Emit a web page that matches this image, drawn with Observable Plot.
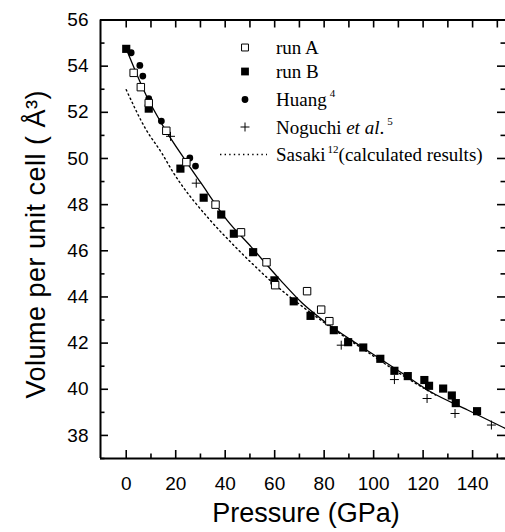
<!DOCTYPE html>
<html><head><meta charset="utf-8">
<script src="https://cdn.jsdelivr.net/npm/d3@7"></script>
<script src="https://cdn.jsdelivr.net/npm/@observablehq/plot@0.6"></script>
<style>
body{margin:0;background:#fff;overflow:hidden}
#wrap{position:relative;width:505px;height:532px}
#wrap svg{display:block}
#legend{position:absolute;left:0;top:0}
.ytitle text{letter-spacing:0.5px}
</style></head><body><div id="wrap"></div>
<script>
// ---- data ----
const runA_P = [3.0, 5.9, 9.1, 16.2, 24.3, 36.1, 46.4, 56.7, 60.2, 73.1, 78.8, 82.1];
const runA_V = [53.71, 53.09, 52.40, 51.20, 49.84, 48.00, 46.80, 45.50, 44.51, 44.25, 43.45, 42.95];
const runB_P = [0, 9.1, 21.9, 31.3, 38.4, 43.5, 51.3, 59.9, 67.7, 74.5, 83.9, 89.7, 95.8, 102.7, 108.4, 113.8, 120.5, 122.4, 128.1, 131.6, 133.2, 141.8];
const runB_V = [54.75, 52.16, 49.56, 48.30, 47.57, 46.74, 45.94, 44.72, 43.81, 43.18, 42.56, 42.04, 41.81, 41.32, 40.80, 40.57, 40.40, 40.15, 40.03, 39.73, 39.40, 39.05];
const huang_P = [2.0, 5.5, 6.7, 9.1, 14.2, 25.7, 28.0];
const huang_V = [54.58, 54.03, 53.57, 52.59, 51.62, 50.02, 49.67];
const noguchi_P = [17.9, 28.3, 86.9, 108.4, 121.6, 132.9, 147.6];
const noguchi_V = [50.96, 48.93, 41.91, 40.42, 39.60, 38.95, 38.45];
const fit_P = [0, 8, 15.2, 23.9, 30, 40.8, 50.5, 62.4, 71, 80, 90.7, 96, 110.8, 123, 138, 153.3];
const fit_V = [54.75, 52.75, 51.35, 49.92, 48.97, 47.32, 46.17, 44.72, 43.75, 42.95, 42.15, 41.78, 40.75, 39.89, 39.10, 38.30];
const sasaki_P = [0, 7.8, 14.5, 18.5, 33.3, 42.2, 50.2, 59.6, 70.4, 82.5, 96, 114, 125];
const sasaki_V = [52.98, 51.29, 50.21, 49.48, 47.40, 46.38, 45.52, 44.58, 43.65, 42.70, 41.72, 40.45, 39.75];

const xMajor = [0, 20, 40, 60, 80, 100, 120, 140];
const xMinor = [10, 30, 50, 70, 90, 110, 130, 150];
const yMajor = [38, 40, 42, 44, 46, 48, 50, 52, 54, 56];
const yMinor = [37, 39, 41, 43, 45, 47, 49, 51, 53, 55];
const xDomain = [-10.4, 153.3];
const yDomain = [37, 56];
const xTitle = ["Pressure (GPa)"];
const yTitle = ["Volume per unit cell ( Å³)"];

// ---- layout ----
const W = 505, H = 532, mL = 100, mR = 0, mT = 19.5, mB = 74;
const pw = W - mL - mR, ph = H - mT - mB;
const pts = (P, V) => P.map((p, i) => ({P: p, V: V[i]}));

const chart = Plot.plot({
  width: W, height: H,
  marginLeft: mL, marginRight: mR, marginTop: mT, marginBottom: mB,
  x: {domain: xDomain},
  y: {domain: yDomain},
  style: {fontFamily: "'Liberation Sans', Arial, sans-serif", color: "#000", background: "#fff"},
  marks: [
    // frame (left, top, bottom)
    Plot.ruleX([xDomain[0]], {x: d => d, stroke: "#000", strokeWidth: 2}),
    Plot.ruleY(yDomain, {y: d => d, stroke: "#000", strokeWidth: 2}),
    // inward ticks
    Plot.tickX(xMajor, {x: d => d, insetTop: ph - 8, stroke: "#000", strokeWidth: 1.6}),
    Plot.tickX(xMinor, {x: d => d, insetTop: ph - 4.5, stroke: "#000", strokeWidth: 1.6}),
    Plot.tickX(xMajor.concat(xMinor), {x: d => d, insetBottom: ph - 8, stroke: "#000", strokeWidth: 1.6}),
    Plot.tickY(yMajor, {y: d => d, insetRight: pw - 8, stroke: "#000", strokeWidth: 1.6}),
    Plot.tickY(yMinor, {y: d => d, insetRight: pw - 4.5, stroke: "#000", strokeWidth: 1.6}),
    Plot.tickY(yMajor, {y: d => d, insetLeft: pw - 8, stroke: "#000", strokeWidth: 1.6}),
    Plot.tickY(yMinor, {y: d => d, insetLeft: pw - 4.5, stroke: "#000", strokeWidth: 1.6}),
    // tick labels
    Plot.axisX({ticks: xMajor, tickSize: 0, tickPadding: 18, fontSize: 19, tickFormat: d => String(d), label: null}),
    Plot.axisY({ticks: yMajor, tickSize: 0, tickPadding: 12, fontSize: 19, tickFormat: d => String(d), label: null}),
    // axis titles
    Plot.text(xTitle, {text: d => d, frameAnchor: "bottom", dx: 3, dy: 55, fontSize: 27, lineAnchor: "middle", textAnchor: "middle"}),
    Plot.text(yTitle, {text: d => d, frameAnchor: "left", rotate: -90, dx: -64, dy: 5, fontSize: 27, lineAnchor: "middle", textAnchor: "middle", className: "ytitle"}),
    // curves
    Plot.line(pts(sasaki_P, sasaki_V), {x: "P", y: "V", stroke: "#000", strokeWidth: 1.4, strokeDasharray: "1.4,3.2", curve: "monotone-x"}),
    Plot.line(pts(fit_P, fit_V), {x: "P", y: "V", stroke: "#000", strokeWidth: 1.3, curve: "monotone-x"}),
    // points
    Plot.dot(pts(huang_P, huang_V), {x: "P", y: "V", symbol: "circle", r: 3.4, fill: "#000", stroke: "none"}),
    Plot.dot(pts(noguchi_P, noguchi_V), {x: "P", y: "V", symbol: "plus", r: 3.0, stroke: "#000", strokeWidth: 1, fill: "none"}),
    Plot.dot(pts(runB_P, runB_V), {x: "P", y: "V", symbol: "square", r: 4.6, fill: "#000", stroke: "none"}),
    Plot.dot(pts(runA_P, runA_V), {x: "P", y: "V", symbol: "square", r: 4.2, fill: "#fff", stroke: "#000", strokeWidth: 1})
  ]
});
const wrap = document.getElementById("wrap");
wrap.appendChild(chart);

// ---- legend (overlay) ----
const leg = d3.select(wrap).append("svg").attr("id", "legend").attr("width", W).attr("height", 180);
const rows = [47.5, 71.5, 99.5, 127, 154.5];
const symX = 245, textX = 276;
const g = leg.append("g").style("font-family", "'Liberation Serif', 'Times New Roman', serif").style("font-size", "19px").attr("fill", "#000");
g.append("path").attr("transform", `translate(${symX},${rows[0]})`).attr("d", d3.symbol(d3.symbolSquare, Math.PI * 3.9 * 3.9)()).attr("fill", "#fff").attr("stroke", "#000");
g.append("path").attr("transform", `translate(${symX},${rows[1]})`).attr("d", d3.symbol(d3.symbolSquare, Math.PI * 4.4 * 4.4)()).attr("fill", "#000");
g.append("path").attr("transform", `translate(${symX},${rows[2]})`).attr("d", d3.symbol(d3.symbolCircle, Math.PI * 3.4 * 3.4)()).attr("fill", "#000");
g.append("path").attr("transform", `translate(${symX},${rows[3]})`).attr("d", d3.symbol(d3.symbolPlus, Math.PI * 3.0 * 3.0)()).attr("fill", "none").attr("stroke", "#000");
g.append("line").attr("x1", 220).attr("x2", 267).attr("y1", rows[4]).attr("y2", rows[4]).attr("stroke", "#000").attr("stroke-width", 1.4).attr("stroke-dasharray", "1.4,3.2");
const base = 6.5;
g.append("text").attr("x", textX).attr("y", rows[0] + base).text("run A");
g.append("text").attr("x", textX).attr("y", rows[1] + base).text("run B");
let t = g.append("text").attr("x", textX).attr("y", rows[2] + base);
t.append("tspan").text("Huang");
t.append("tspan").attr("dx", 3).attr("dy", -9).style("font-size", "11px").text("4");
t = g.append("text").attr("x", textX).attr("y", rows[3] + base);
t.append("tspan").text("Noguchi ");
t.append("tspan").style("font-style", "italic").text("et al");
t.append("tspan").text(".");
t.append("tspan").attr("dx", 3).attr("dy", -9).style("font-size", "11px").text("5");
t = g.append("text").attr("x", textX).attr("y", rows[4] + base);
t.append("tspan").text("Sasaki");
t.append("tspan").attr("dx", 2).attr("dy", -8).style("font-size", "11px").text("12");
t.append("tspan").attr("dy", 8).text("(calculated results)");
</script></body></html>
